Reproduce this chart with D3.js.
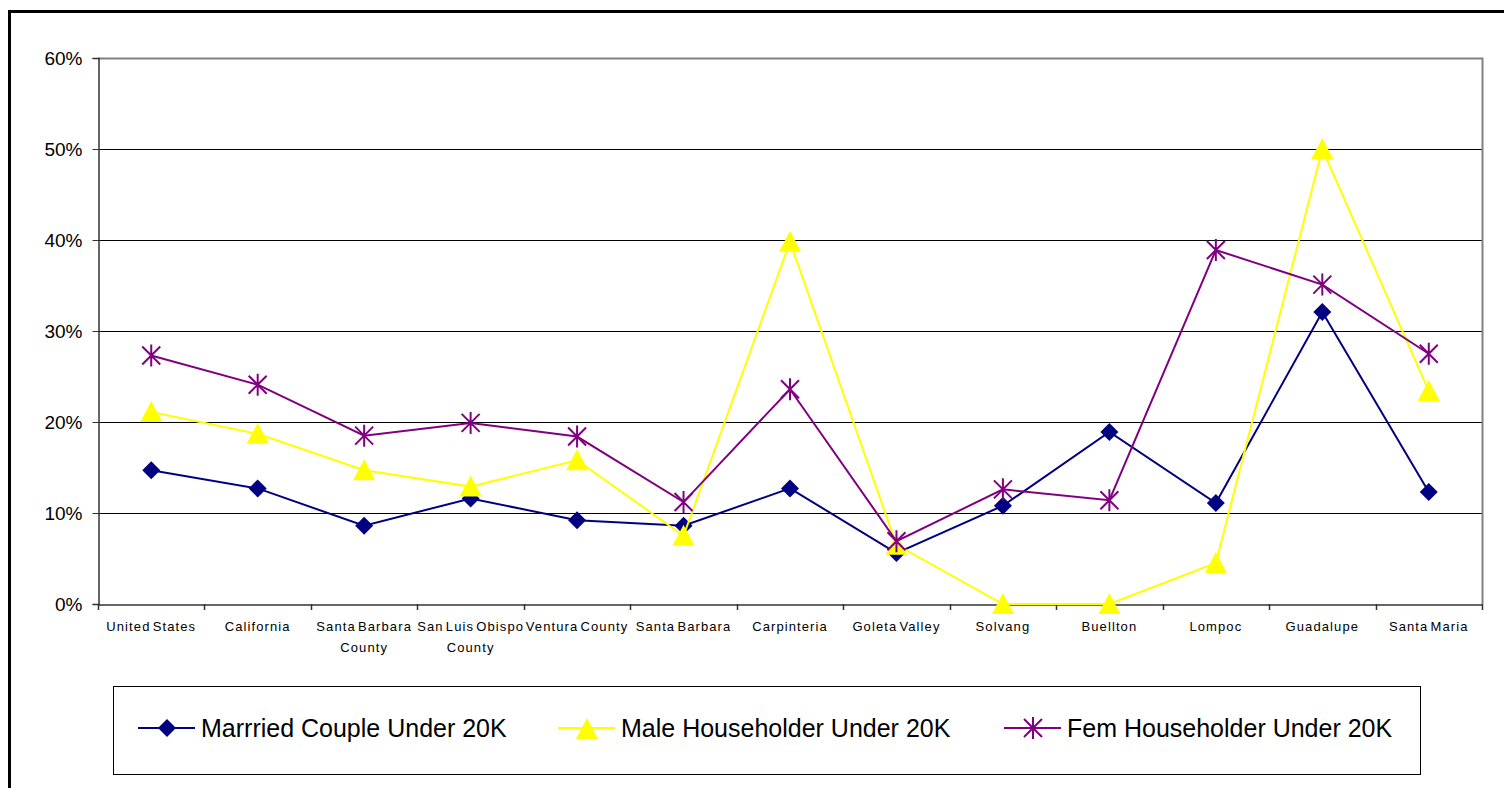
<!DOCTYPE html>
<html>
<head>
<meta charset="utf-8">
<script src="https://cdn.jsdelivr.net/npm/d3@7/dist/d3.min.js"></script>
<style>
  body { margin: 0; background: #fff; }
  svg text { font-family: "Liberation Sans", Arial, sans-serif; }
</style>
</head>
<body>
<script>
// categories (x axis)
var places = ["United States", "California", "Santa Barbara County", "San Luis Obispo County",
  "Ventura County", "Santa Barbara", "Carpinteria", "Goleta Valley", "Solvang",
  "Buellton", "Lompoc", "Guadalupe", "Santa Maria"];

// series values in percent
var married = [14.7, 12.7, 8.6, 11.6, 9.2, 8.6, 12.7, 5.6, 10.8, 18.9, 11.1, 32.1, 12.3];
var male    = [21.1, 18.7, 14.7, 12.9, 15.8, 7.5, 39.8, 6.5, 0, 0, 4.5, 50, 23.4];
var fem     = [27.3, 24.1, 18.5, 19.9, 18.4, 11.2, 23.6, 6.9, 12.6, 11.4, 38.9, 35.1, 27.5];

var seriesNames = ["Marrried Couple Under 20K", "Male Householder Under 20K", "Fem Householder Under 20K"];
var yTicks = [0, 10, 20, 30, 40, 50, 60];

var w = 1504, h = 788;
var plotLeft = 98, plotRight = 1482, plotTop = 58, plotBottom = 604;

var svg = d3.select("body").append("svg")
  .attr("width", w)
  .attr("height", h);

// outer frame
svg.append("rect")
  .attr("x", 9.5).attr("y", 11.5)
  .attr("width", 1520).attr("height", 800)
  .attr("fill", "none")
  .attr("stroke", "#000")
  .attr("stroke-width", 3);

var x = d3.scaleBand().domain(places).range([plotLeft, plotRight]);
var y = d3.scaleLinear().domain([0, 60]).range([plotBottom, plotTop]);

// gridlines
svg.append("g").selectAll("line")
  .data(yTicks.filter(function(t){ return t > 0 && t < 60; }))
  .enter().append("line")
  .attr("x1", plotLeft).attr("x2", plotRight)
  .attr("y1", function(d){ return Math.round(y(d)) + 0.5; })
  .attr("y2", function(d){ return Math.round(y(d)) + 0.5; })
  .attr("stroke", "#000").attr("stroke-width", 1);

// plot area border (top and right in gray)
svg.append("path")
  .attr("d", "M" + plotLeft + "," + (plotTop + 0.5) + "H" + (plotRight + 0.5) + "V" + plotBottom)
  .attr("fill", "none")
  .attr("stroke", "#808080")
  .attr("stroke-width", 2);

// y axis
var yAxis = d3.axisLeft(y).tickValues(yTicks).tickSize(6).tickPadding(10)
  .tickFormat(function(d){ return d + "%"; });
var gy = svg.append("g")
  .attr("transform", "translate(" + (plotLeft + 0.5) + ",0)")
  .call(yAxis);
gy.select(".domain").attr("stroke", "#333").attr("stroke-width", 1.5);
gy.selectAll(".tick line").attr("stroke", "#333");
gy.selectAll(".tick text").attr("font-size", 19).attr("fill", "#000");

// x axis
var xAxis = d3.axisBottom(x).tickSize(0).tickFormat("");
var gx = svg.append("g")
  .attr("transform", "translate(0," + (plotBottom + 0.5) + ")")
  .call(xAxis);
gx.select(".domain").attr("stroke", "#333").attr("stroke-width", 1.5);

// tick marks at category boundaries
var bounds = places.map(function(p){ return x(p); }).concat([plotRight]);
svg.append("g").selectAll("line")
  .data(bounds).enter().append("line")
  .attr("x1", function(d){ return Math.round(d) + 0.5; })
  .attr("x2", function(d){ return Math.round(d) + 0.5; })
  .attr("y1", plotBottom).attr("y2", plotBottom + 6)
  .attr("stroke", "#333").attr("stroke-width", 1.5);

// category labels, wrapped like the original
var labelLines = {
  "Santa Barbara County": ["Santa Barbara", "County"],
  "San Luis Obispo County": ["San Luis Obispo", "County"]
};
var lab = svg.append("g").selectAll("text")
  .data(places).enter().append("text")
  .attr("x", function(d){ return x(d) + x.bandwidth() / 2; })
  .attr("y", 631)
  .attr("text-anchor", "middle")
  .attr("font-size", 13)
  .attr("letter-spacing", 1.1)
  .attr("word-spacing", -2.5)
  .attr("fill", "#000");
lab.each(function(d){
  var lines = labelLines[d] || [d];
  var t = d3.select(this);
  lines.forEach(function(s, i){
    t.append("tspan")
      .attr("x", x(d) + x.bandwidth() / 2)
      .attr("dy", i === 0 ? 0 : 21)
      .text(s);
  });
});

var cx = function(i){ return x(places[i]) + x.bandwidth() / 2; };

var diamond = "M0,-9L9,0L0,9L-9,0Z";
var triangle = "M0,-11L11,10L-11,10Z";
var star = "M-9,-9L9,9M-9,9L9,-9M0,-11V11";

var series = [
  { name: seriesNames[0], values: married, color: "#000080", shape: diamond, fill: true },
  { name: seriesNames[1], values: male, color: "#FFFF00", shape: triangle, fill: true },
  { name: seriesNames[2], values: fem, color: "#800080", shape: star, fill: false }
];

var line = d3.line()
  .x(function(d, i){ return cx(i); })
  .y(function(d){ return y(d); });

series.forEach(function(s){
  svg.append("path")
    .datum(s.values)
    .attr("d", line)
    .attr("fill", "none")
    .attr("stroke", s.color)
    .attr("stroke-width", 2);
  svg.append("g").selectAll("path")
    .data(s.values).enter().append("path")
    .attr("transform", function(d, i){ return "translate(" + cx(i) + "," + y(d) + ")"; })
    .attr("d", s.shape)
    .attr("fill", s.fill ? s.color : "none")
    .attr("stroke", s.color)
    .attr("stroke-width", s.fill ? 0 : 2);
});

// legend
var lg = svg.append("g");
lg.append("rect")
  .attr("x", 113.5).attr("y", 686.5)
  .attr("width", 1307).attr("height", 88)
  .attr("fill", "#fff")
  .attr("stroke", "#000").attr("stroke-width", 1);

var legendX = [138, 558, 1004];
series.forEach(function(s, i){
  var g = lg.append("g").attr("transform", "translate(" + legendX[i] + ",728)");
  g.append("line").attr("x1", 0).attr("x2", 57).attr("y1", 0).attr("y2", 0)
    .attr("stroke", s.color).attr("stroke-width", 2);
  g.append("path")
    .attr("transform", "translate(29," + (i === 1 ? 1 : 0) + ")")
    .attr("d", s.shape)
    .attr("fill", s.fill ? s.color : "none")
    .attr("stroke", s.color)
    .attr("stroke-width", s.fill ? 0 : 2);
  g.append("text")
    .attr("x", 63).attr("y", 9)
    .attr("font-size", 25)
    .attr("fill", "#000")
    .text(s.name);
});
</script>
</body>
</html>
